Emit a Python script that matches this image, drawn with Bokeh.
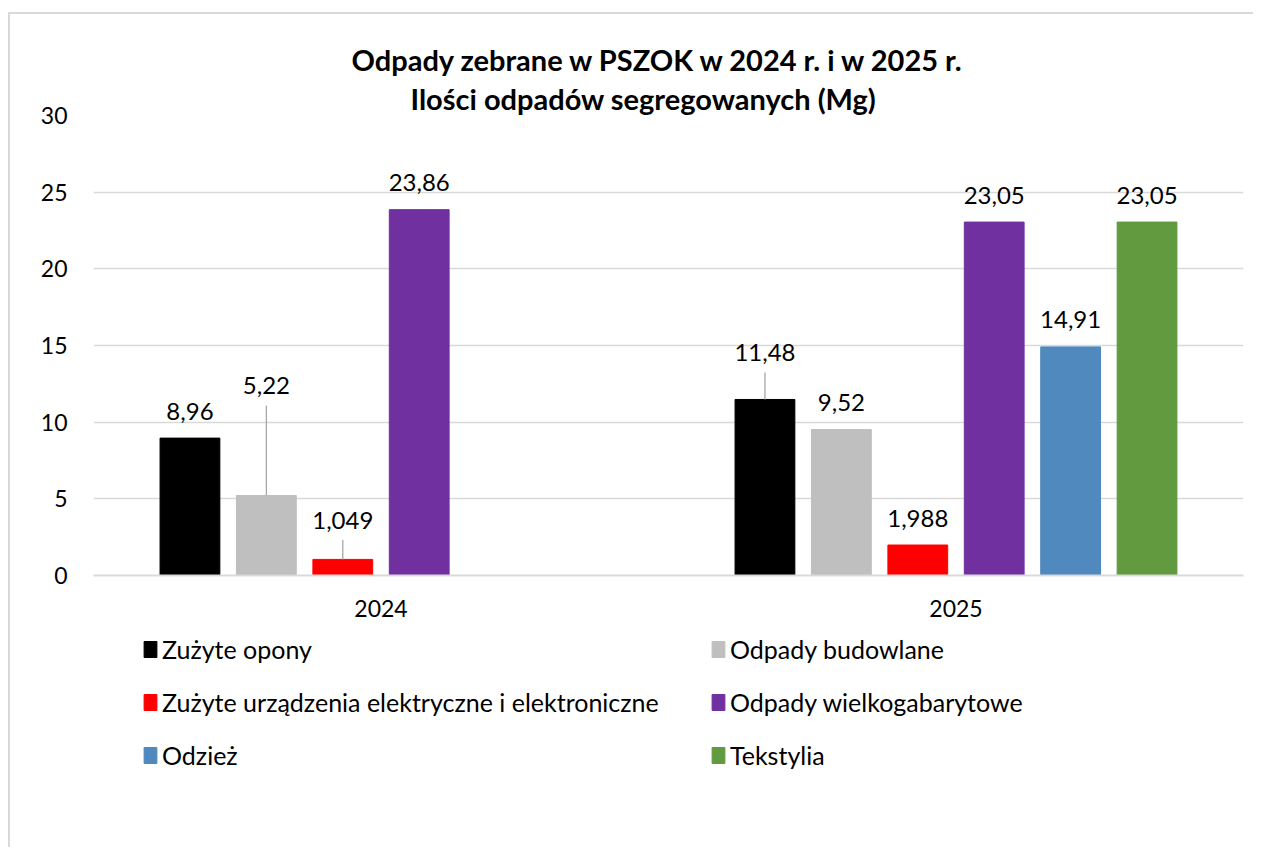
import math
from bokeh.plotting import figure
from bokeh.layouts import column
from bokeh.models import (FactorRange, ColumnDataSource, Legend, LegendItem, Title,
                          FixedTicker, Range1d)
from bokeh.transform import dodge
from bokeh.core.properties import value
from bokeh.embed import file_html
from bokeh.resources import INLINE

# ---------------- data ----------------
years = ["2024", "2025"]
series = ["Zużyte opony", "Odpady budowlane",
          "Zużyte urządzenia elektryczne i elektroniczne",
          "Odpady wielkogabarytowe", "Odzież", "Tekstylia"]
colors = ["#000000", "#bfbfbf", "#ff0000", "#7030a0", "#4f89bd", "#629b3f"]
v_2024 = [8.96, 5.22, 1.049, 23.86, None, None]
v_2025 = [11.48, 9.52, 1.988, 23.05, 14.91, 23.05]
lbl_2024 = ["8,96", "5,22", "1,049", "23,86", "", ""]
lbl_2025 = ["11,48", "9,52", "1,988", "23,05", "14,91", "23,05"]
# extra lift (Mg) of displaced data labels that carry a leader line
lift_2024 = [0, 5.4, 0.8, 0, 0, 0]
lift_2025 = [1.3, 0, 0, 0, 0, 0]
y_ticks = [0, 5, 10, 15, 20, 25, 30]
title_1 = "Odpady zebrane w PSZOK w 2024 r. i w 2025 r."
title_2 = "Ilości odpadów segregowanych (Mg)"

FONT = "Lato"
BASE_LIFT = 1.76
SLOT = 0.1329
BAR_W = 0.104
BORDER = "2px solid #d9d9d9"

p = figure(x_range=FactorRange(factors=years, range_padding=0),
           y_range=Range1d(0, 30),
           width=1245, height=621, title=None,
           output_backend="svg", toolbar_location=None,
           min_border_left=83, min_border_right=12,
           min_border_top=101, min_border_bottom=60)
p.styles = {"border-left": BORDER, "border-top": BORDER}
p.margin = (12, 0, 0, 8)
p.outline_line_color = None
p.background_fill_color = "white"
p.border_fill_color = "white"

for i, name in enumerate(series):
    tops = [v_2024[i], v_2025[i]]
    tops = [float("nan") if t is None else t for t in tops]
    lifts = [lift_2024[i], lift_2025[i]]
    labels = [lbl_2024[i], lbl_2025[i]]
    ly = [t + BASE_LIFT + l if not math.isnan(t) else float("nan") for t, l in zip(tops, lifts)]
    src = ColumnDataSource(dict(x=years, top=tops, label=labels, ly=ly))
    off = (i - 2.5) * SLOT
    p.vbar(x=dodge("x", off, range=p.x_range), top="top", width=BAR_W,
           fill_color=colors[i], line_color=colors[i], source=src)
    # leader lines for displaced labels
    keep = [k for k in range(2) if lifts[k] > 0]
    if keep:
        lsrc = ColumnDataSource(dict(
            x=[years[k] for k in keep],
            top=[tops[k] for k in keep],
            lead_top=[ly[k] - 1.3 for k in keep]))
        p.segment(x0=dodge("x", off, range=p.x_range), y0="top",
                  x1=dodge("x", off, range=p.x_range), y1="lead_top",
                  line_color="#a6a6a6", line_width=1.3, source=lsrc)
    p.text(x=dodge("x", off, range=p.x_range), y="ly", text="label", source=src,
           text_align="center", text_baseline="middle",
           text_font=value(FONT), text_font_size="24px", text_color="#000000")

# axes
p.yaxis.ticker = FixedTicker(ticks=y_ticks)
p.yaxis.axis_line_color = None
p.yaxis.major_tick_line_color = None
p.yaxis.minor_tick_line_color = None
p.yaxis.major_label_standoff = 20
p.yaxis.major_label_text_font = FONT
p.yaxis.major_label_text_font_size = "23px"
p.yaxis.major_label_text_color = "#000000"

p.xaxis.axis_line_color = "#d9d9d9"
p.xaxis.axis_line_width = 2
p.xaxis.major_tick_line_color = None
p.xaxis.minor_tick_line_color = None
p.xaxis.major_label_standoff = 18
p.xaxis.major_label_text_font = FONT
p.xaxis.major_label_text_font_size = "23px"
p.xaxis.major_label_text_color = "#000000"

p.xgrid.grid_line_color = None
p.ygrid.grid_line_color = "#d9d9d9"
p.ygrid.grid_line_width = 1.5

# titles (line 2 is closest to the frame)
p.add_layout(Title(text=title_2, align="left", offset=317, text_font=FONT,
                   text_font_size="29px", text_font_style="bold",
                   text_color="#000000", standoff=0), "above")
p.add_layout(Title(text=title_1, align="left", offset=258, text_font=FONT,
                   text_font_size="29px", text_font_style="bold",
                   text_color="#000000", standoff=4), "above")

# legend area (second figure, no axes; its frame is aligned with the chart frame)
q = figure(width=1245, height=214, x_range=Range1d(0, 1), y_range=Range1d(0, 1),
           x_axis_type=None, y_axis_type=None, title=None,
           output_backend="svg", toolbar_location=None, min_border=0)
q.styles = {"border-left": BORDER}
q.margin = (0, 0, 0, 8)
q.outline_line_color = None
q.xgrid.grid_line_color = None
q.ygrid.grid_line_color = None
# legend swatch renderers, placed outside the visible range
swatches = [q.vbar(x=[-5], top=[-5], bottom=[-6], width=0.1, fill_color=c, line_color=c)
            for c in colors]

def make_legend(idx, loc):
    leg = Legend(items=[LegendItem(label=series[k], renderers=[swatches[k]]) for k in idx],
                 location=loc, orientation="vertical",
                 label_text_font=FONT, label_text_font_size="25px",
                 label_text_color="#000000",
                 glyph_width=16, glyph_height=20, label_standoff=4,
                 spacing=23, padding=0, margin=0,
                 border_line_color=None, background_fill_alpha=0)
    q.add_layout(leg, "center")

make_legend([0, 2, 4], (49, 77))
make_legend([1, 3, 5], (617, 77))

layout = column(p, q, spacing=0)
open("out.html", "w").write(file_html(layout, INLINE))
